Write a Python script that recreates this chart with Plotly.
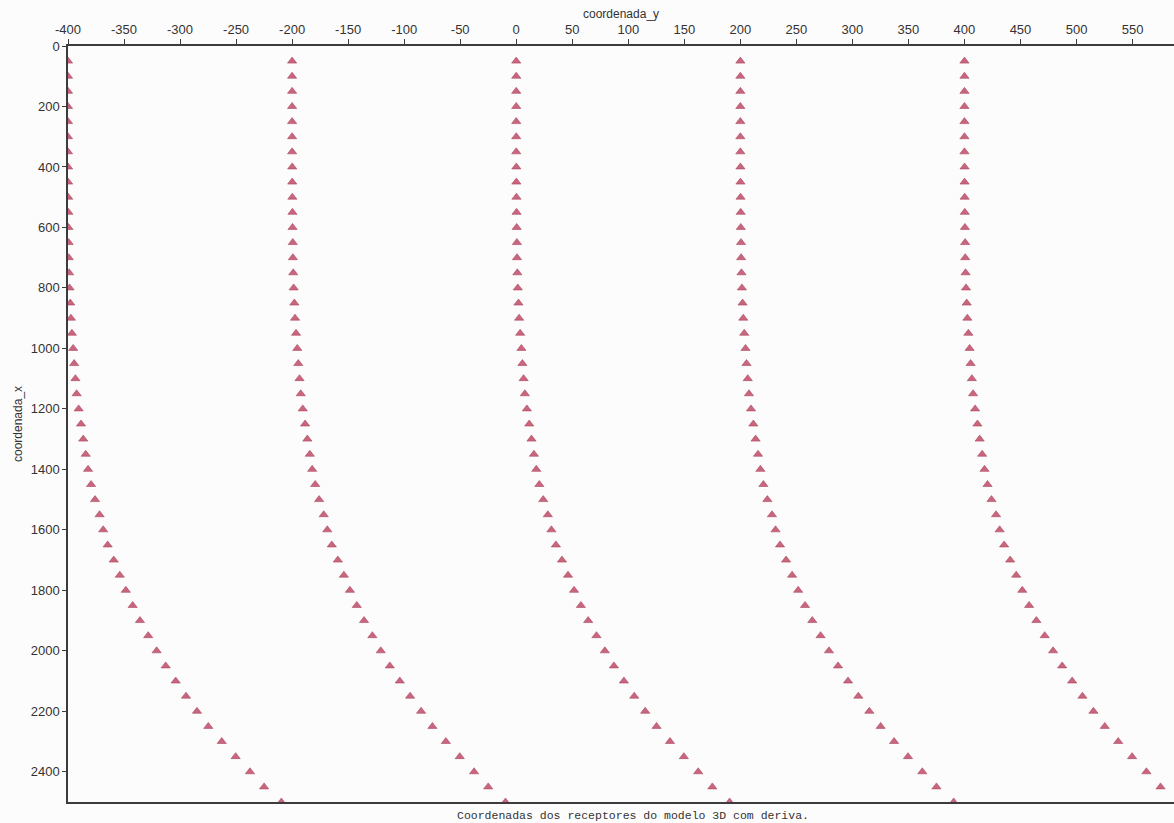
import plotly.graph_objects as go

# Receiver stations along each streamer (coordenada_x), every 50 m
station_x = [50 * k for k in range(1, 51)]

# Nominal cross-line position of each of the five streamers (coordenada_y)
streamer_y0 = [-400, -200, 0, 200, 400]

# Lateral drift of the receivers with distance along the streamer
drift = [
    0.0, 0.0, 0.0, 0.0, 0.0, 0.0, 0.0, 0.1, 0.1, 0.2,
    0.3, 0.4, 0.6, 0.7, 1.0, 1.4, 2.0, 2.6, 3.5, 4.6,
    5.5, 6.6, 7.7, 9.5, 11.6, 13.6, 15.8, 17.9, 20.6, 24.1,
    28.2, 31.4, 35.4, 40.8, 46.2, 51.6, 57.7, 64.2, 71.6, 79.1,
    87.2, 96.1, 105.3, 115.1, 125.2, 137.2, 149.6, 162.4, 175.0, 190.4,
]

x_ticks = list(range(-400, 551, 50))
y_ticks = list(range(0, 2401, 200))

MARKER_COLOR = "#c9667e"
AXIS_COLOR = "#3c3c3c"
TICK_FONT = dict(family="Liberation Sans Narrow, Liberation Sans, Arial", size=13, color="#333333")

fig = go.Figure()
for y0 in streamer_y0:
    fig.add_trace(go.Scatter(
        x=[y0 + d for d in drift],
        y=station_x,
        mode="markers",
        marker=dict(symbol="triangle-up", size=8, color=MARKER_COLOR,
                    line=dict(color="#a84660", width=0.6)),
        cliponaxis=True,
        showlegend=False,
        hoverinfo="x+y",
    ))

fig.update_layout(
    width=1174,
    height=823,
    margin=dict(l=68, r=0, t=46, b=21),
    paper_bgcolor="#fdfcfd",
    plot_bgcolor="#fdfcfd",
    showlegend=False,
    xaxis=dict(
        side="top",
        range=[-400, 587],
        tickmode="array",
        tickvals=x_ticks,
        ticktext=[str(v) for v in x_ticks],
        ticks="outside",
        ticklen=5,
        tickwidth=1.2,
        tickcolor=AXIS_COLOR,
        tickfont=TICK_FONT,
        showgrid=False,
        zeroline=False,
        showline=True,
        linecolor=AXIS_COLOR,
        linewidth=1.5,
        mirror=True,
    ),
    yaxis=dict(
        range=[2500, 0],
        tickmode="array",
        tickvals=y_ticks,
        ticktext=[str(v) for v in y_ticks],
        ticks="outside",
        ticklen=4,
        tickwidth=1.2,
        tickcolor=AXIS_COLOR,
        tickfont=TICK_FONT,
        showgrid=False,
        zeroline=False,
        showline=True,
        linecolor=AXIS_COLOR,
        linewidth=1.5,
        mirror=False,
    ),
    annotations=[
        dict(text="coordenada_y", xref="paper", yref="paper", x=0.5, y=1,
             yshift=32, showarrow=False, xanchor="center", yanchor="middle",
             font=dict(family="Liberation Sans, Arial", size=12, color="#333333")),
        dict(text="coordenada_x", xref="paper", yref="paper", x=0, y=0.5,
             xshift=-50, showarrow=False, textangle=-90, xanchor="center", yanchor="middle",
             font=dict(family="Liberation Sans, Arial", size=12, color="#333333")),
        dict(text="Coordenadas dos receptores do modelo 3D com deriva.",
             xref="paper", yref="paper", x=0.511, y=0, yshift=-13,
             showarrow=False, xanchor="center", yanchor="middle",
             font=dict(family="Liberation Mono, DejaVu Sans Mono", size=11.5, color="#333333")),
    ],
)

fig.write_html("out.html", config={"displayModeBar": False})
